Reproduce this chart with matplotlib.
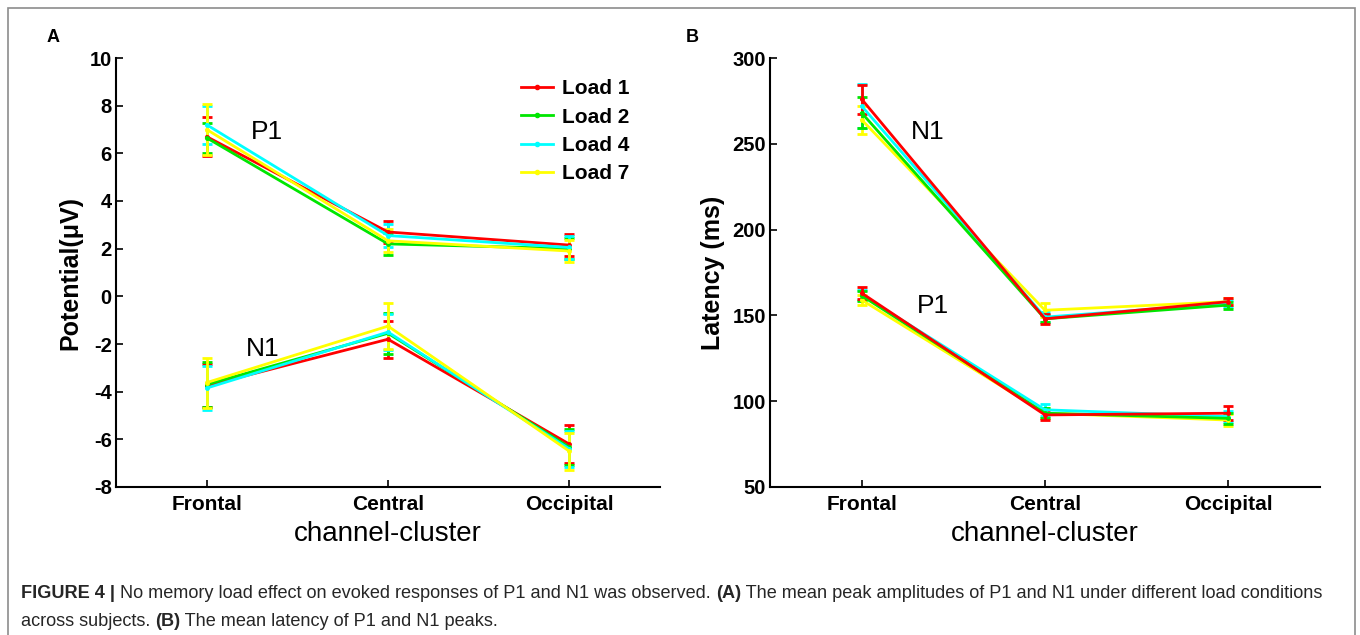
import matplotlib
matplotlib.use("Agg")
import matplotlib.pyplot as plt
import matplotlib.patches as patches
from matplotlib.lines import Line2D

plt.rcParams["font.family"] = ["Liberation Sans", "DejaVu Sans"]
plt.rcParams["axes.unicode_minus"] = False

clusters = ["Frontal", "Central", "Occipital"]
loads = ["Load 1", "Load 2", "Load 4", "Load 7"]
colours = ["#ff0000", "#00e600", "#00ffff", "#ffff00"]

# panel A: amplitude (uV), one row per load
p1_amp = [[6.7, 2.7, 2.15], [6.65, 2.2, 2.0], [7.2, 2.55, 2.05], [7.0, 2.33, 1.9]]
p1_amp_err = [[0.83, 0.45, 0.45], [0.63, 0.45, 0.45], [0.8, 0.5, 0.5], [1.05, 0.48, 0.45]]
n1_amp = [[-3.75, -1.8, -6.2], [-3.7, -1.55, -6.33], [-3.85, -1.5, -6.4], [-3.62, -1.25, -6.5]]
n1_amp_err = [[0.9, 0.78, 0.8], [0.95, 0.86, 0.75], [0.92, 0.75, 0.75], [1.05, 0.95, 0.78]]

# panel B: latency (ms)
n1_lat = [[276, 148, 158], [268, 148, 156], [272, 149, 157], [264, 153, 158]]
n1_lat_err = [[8.5, 3, 2], [9, 2, 2], [13, 3, 2], [8, 4, 2]]
p1_lat = [[163, 92, 93], [161.5, 93, 90], [162, 95, 91], [159, 93, 89]]
p1_lat_err = [[3.5, 3, 4], [3, 3, 3], [3, 3.5, 3], [3, 3, 3.5]]

x = [1, 2, 3]

fig = plt.figure(figsize=(13.6, 6.35), dpi=100)

# frame round the whole figure
fig.add_artist(patches.Rectangle((8 / 1360, -0.05), 1347 / 1360, 1.05 - 8 / 635,
                                 transform=fig.transFigure, fill=False,
                                 edgecolor="#8c8c8c", lw=1.2))

ax_a = fig.add_axes([116 / 1360, 1 - 487 / 635, 544 / 1360, 429 / 635])
ax_b = fig.add_axes([770 / 1360, 1 - 487 / 635, 550 / 1360, 429 / 635])


def draw_series(ax, vals, errs, order):
    for i in order:
        ax.errorbar(x, vals[i], yerr=errs[i], color=colours[i], lw=2,
                    elinewidth=2, capsize=3.5, capthick=2, marker=".",
                    markersize=5)


def style_axes(ax, ylim, yticks, ylabel):
    ax.set_xlim(0.5, 3.5)
    ax.set_ylim(*ylim)
    ax.set_yticks(yticks)
    ax.set_xticks(x)
    ax.set_xticklabels(clusters, fontsize=15, fontweight="bold")
    for t in ax.get_yticklabels():
        t.set_fontsize(14.5)
        t.set_fontweight("bold")
    ax.spines["top"].set_visible(False)
    ax.spines["right"].set_visible(False)
    ax.spines["left"].set_linewidth(1.5)
    ax.spines["bottom"].set_linewidth(1.5)
    ax.tick_params(direction="in", length=5, width=1.2, pad=3)
    ax.tick_params(axis="x", pad=6)
    ax.set_xlabel("channel-cluster", fontsize=20, labelpad=5)
    ax.set_ylabel(ylabel, fontsize=18, fontweight="bold", labelpad=5)


draw_series(ax_a, p1_amp, p1_amp_err, [0, 1, 2, 3])
draw_series(ax_a, n1_amp, n1_amp_err, [0, 1, 2, 3])
style_axes(ax_a, (-8, 10), range(-8, 11, 2), "Potential(\u03bcV)")
ax_a.text(1.33, 6.9, "P1", fontsize=19, ha="center", va="center")
ax_a.text(1.31, -2.2, "N1", fontsize=19, ha="center", va="center")
handles = [Line2D([], [], color=c, lw=2, marker=".", markersize=6) for c in colours]
ax_a.legend(handles, loads, loc="upper left", bbox_to_anchor=(0.726, 0.975),
            frameon=False, borderpad=0, prop={"size": 15, "weight": "bold"},
            handlelength=1.5, labelspacing=0.45, handletextpad=0.45)

draw_series(ax_b, n1_lat, n1_lat_err, [3, 2, 1, 0])
draw_series(ax_b, p1_lat, p1_lat_err, [3, 2, 1, 0])
style_axes(ax_b, (50, 300), range(50, 301, 50), "Latency (ms)")
ax_b.text(1.36, 257, "N1", fontsize=19, ha="center", va="center")
ax_b.text(1.39, 155.5, "P1", fontsize=19, ha="center", va="center")

fig.text(47 / 1360, 1 - 37 / 635, "A", fontsize=13, fontweight="bold", va="center")
fig.text(686 / 1360, 1 - 37 / 635, "B", fontsize=13, fontweight="bold", va="center")

# caption with bold pieces
caption = [
    [("FIGURE 4 | ", "bold"), ("No memory load effect on evoked responses of P1 and N1 was observed. ", "normal"),
     ("(A)", "bold"), (" The mean peak amplitudes of P1 and N1 under different load conditions", "normal")],
    [("across subjects. ", "normal"), ("(B)", "bold"), (" The mean latency of P1 and N1 peaks.", "normal")],
]
renderer = fig.canvas.get_renderer()
for row, line in enumerate(caption):
    xpos = 21
    ypos = 1 - (598 + row * 28) / 635
    for txt, weight in line:
        t = fig.text(xpos / 1360, ypos, txt, fontsize=13.1, fontweight=weight,
                     color="#262626", va="baseline")
        xpos += t.get_window_extent(renderer).width

fig.savefig("out.png", dpi=100)
